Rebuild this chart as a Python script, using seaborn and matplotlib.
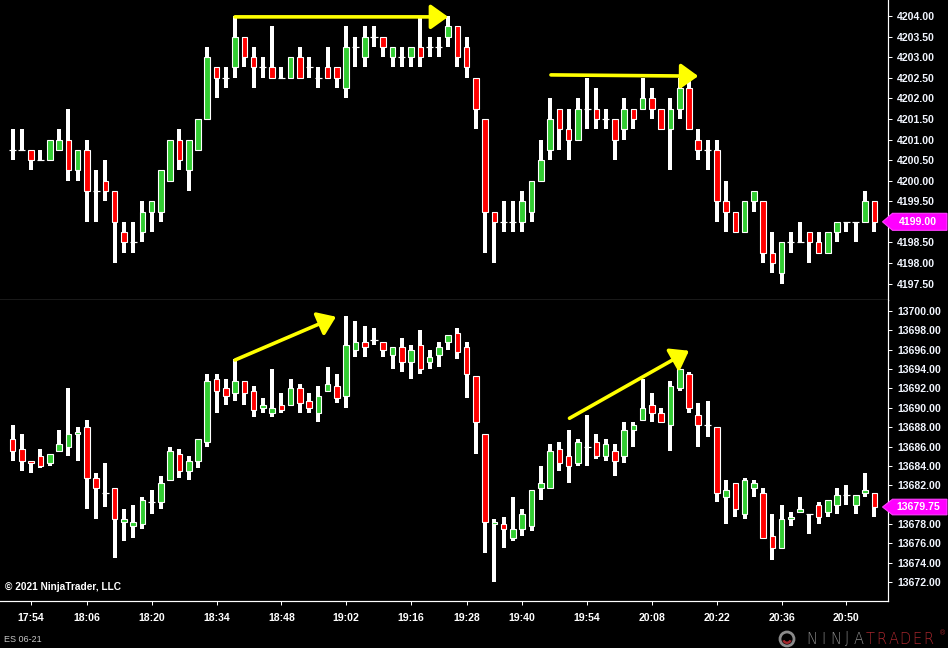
import numpy as np
import pandas as pd
import matplotlib
matplotlib.use("Agg")
import matplotlib.pyplot as plt
import matplotlib.transforms as mtransforms
from matplotlib.patches import Polygon, FancyArrowPatch, ArrowStyle, Circle, Wedge
import seaborn as sns

# ---------------- data ----------------
es_open = [4200.75, 4200.75, 4200.75, 4200.5, 4200.5, 4200.75, 4201.0, 4200.25, 4200.75, 4199.75,
           4200.0, 4199.75, 4198.75, 4198.5, 4198.75, 4199.25, 4199.25, 4200.0, 4201.0, 4200.25,
           4200.75, 4201.5, 4202.75, 4202.5, 4202.75, 4203.5, 4203.0, 4202.75, 4202.75, 4202.5,
           4202.5, 4203.0, 4202.75, 4202.5, 4202.75, 4202.75, 4202.25, 4203.25, 4203.0, 4203.5,
           4203.5, 4203.0, 4203.0, 4203.0, 4203.25, 4203.25, 4203.25, 4203.5, 4203.75, 4203.25,
           4202.5, 4201.5, 4199.25, 4199.0, 4199.0, 4199.0, 4199.25, 4200.0, 4200.75, 4201.75,
           4201.25, 4201.0, 4201.75, 4201.75, 4201.5, 4201.5, 4201.25, 4201.75, 4201.75, 4202.0,
           4201.75, 4201.25, 4201.75, 4202.25, 4201.0, 4200.75, 4200.75, 4199.5, 4199.25, 4198.75,
           4199.5, 4199.5, 4198.25, 4197.75, 4198.5, 4198.5, 4198.75, 4198.5, 4198.25, 4198.75,
           4199.0, 4199.0, 4199.0, 4199.5]
es_high = [4201.25, 4201.25, 4200.75, 4200.75, 4201.0, 4201.25, 4201.75, 4200.75, 4201.0, 4200.25,
           4200.5, 4199.75, 4199.0, 4199.0, 4199.5, 4199.5, 4200.25, 4201.0, 4201.25, 4201.0,
           4201.5, 4203.25, 4202.75, 4202.75, 4204.0, 4203.5, 4203.25, 4203.0, 4203.75, 4202.75,
           4203.0, 4203.25, 4203.0, 4202.75, 4203.25, 4202.75, 4203.75, 4203.5, 4203.75, 4203.75,
           4203.5, 4203.25, 4203.25, 4203.25, 4204.0, 4203.5, 4203.5, 4204.0, 4203.75, 4203.5,
           4202.5, 4201.5, 4199.25, 4199.5, 4199.5, 4199.75, 4200.0, 4201.0, 4202.0, 4201.75,
           4201.75, 4202.0, 4202.5, 4202.25, 4201.75, 4201.5, 4202.0, 4201.75, 4202.5, 4202.25,
           4201.75, 4202.0, 4202.5, 4202.5, 4201.25, 4201.0, 4201.0, 4200.0, 4199.25, 4199.5,
           4199.75, 4199.5, 4198.75, 4198.5, 4198.75, 4199.0, 4198.75, 4198.75, 4198.75, 4199.0,
           4199.0, 4199.0, 4199.75, 4199.5]
es_low = [4200.5, 4200.75, 4200.25, 4200.5, 4200.5, 4200.75, 4200.0, 4200.0, 4199.0, 4199.0,
          4199.5, 4198.0, 4198.25, 4198.25, 4198.5, 4198.75, 4199.0, 4200.0, 4200.25, 4199.75,
          4200.75, 4201.5, 4202.0, 4202.25, 4202.5, 4202.75, 4202.25, 4202.5, 4202.5, 4202.5,
          4202.5, 4202.5, 4202.5, 4202.25, 4202.5, 4202.25, 4202.0, 4202.75, 4202.75, 4203.25,
          4203.0, 4202.75, 4202.75, 4202.75, 4202.75, 4203.0, 4203.0, 4203.25, 4202.75, 4202.5,
          4201.25, 4198.25, 4198.0, 4198.75, 4198.75, 4198.75, 4199.0, 4200.0, 4200.5, 4200.75,
          4200.5, 4201.0, 4201.25, 4201.25, 4201.25, 4200.5, 4201.0, 4201.25, 4201.75, 4201.5,
          4201.25, 4200.25, 4201.5, 4201.25, 4200.5, 4200.25, 4199.0, 4198.75, 4198.75, 4198.75,
          4199.25, 4198.0, 4197.75, 4197.5, 4198.25, 4198.5, 4198.0, 4198.25, 4198.25, 4198.5,
          4198.75, 4198.5, 4199.0, 4198.75]
es_close = [4200.75, 4200.75, 4200.5, 4200.5, 4201.0, 4201.0, 4200.25, 4200.75, 4199.75, 4199.75,
            4199.75, 4199.0, 4198.5, 4198.5, 4199.25, 4199.5, 4200.25, 4201.0, 4200.5, 4201.0,
            4201.5, 4203.0, 4202.5, 4202.5, 4203.5, 4203.0, 4202.75, 4202.75, 4202.5, 4202.5,
            4203.0, 4202.5, 4202.75, 4202.5, 4202.5, 4202.5, 4203.25, 4203.25, 4203.5, 4203.5,
            4203.25, 4203.25, 4203.0, 4203.25, 4203.0, 4203.25, 4203.25, 4203.75, 4203.0, 4202.75,
            4201.75, 4199.25, 4199.0, 4199.0, 4199.0, 4199.5, 4200.0, 4200.5, 4201.5, 4201.25,
            4201.0, 4201.75, 4201.75, 4201.5, 4201.5, 4201.0, 4201.75, 4201.5, 4202.0, 4201.75,
            4201.25, 4201.75, 4202.25, 4201.25, 4200.75, 4200.75, 4199.5, 4199.25, 4198.75, 4199.5,
            4199.75, 4198.25, 4198.0, 4198.5, 4198.5, 4198.5, 4198.5, 4198.25, 4198.75, 4199.0,
            4199.0, 4199.0, 4199.5, 4199.0]

nq_open = [13686.75, 13685.75, 13684.5, 13685.0, 13684.25, 13685.5, 13686.0, 13687.25, 13688.0, 13682.75,
           13681.25, 13681.75, 13678.25, 13677.75, 13678.0, 13680.25, 13680.25, 13682.5, 13685.25, 13683.5,
           13684.5, 13686.5, 13693.0, 13692.0, 13691.5, 13692.75, 13691.75, 13690.0, 13689.5, 13690.25,
           13690.25, 13692.0, 13690.75, 13689.5, 13691.75, 13692.25, 13691.25, 13696.0, 13696.75, 13697.0,
           13696.75, 13695.5, 13696.25, 13694.75, 13696.5, 13694.75, 13695.5, 13696.75, 13697.75, 13696.25,
           13693.25, 13687.25, 13678.0, 13678.0, 13676.5, 13677.5, 13677.75, 13681.75, 13681.75, 13685.75,
           13685.0, 13684.25, 13686.0, 13686.5, 13685.0, 13685.5, 13685.0, 13687.75, 13688.75, 13690.25,
           13689.5, 13688.25, 13692.0, 13693.5, 13689.25, 13688.25, 13688.0, 13680.75, 13682.25, 13679.0,
           13681.75, 13681.25, 13676.75, 13675.5, 13678.5, 13679.25, 13679.0, 13680.0, 13679.25, 13680.0,
           13681.0, 13680.0, 13681.25, 13681.25]
nq_high = [13688.25, 13687.25, 13684.5, 13685.75, 13685.25, 13687.75, 13692.0, 13688.0, 13688.75, 13683.25,
           13684.25, 13681.75, 13679.5, 13680.0, 13680.75, 13681.5, 13683.0, 13686.0, 13685.75, 13685.0,
           13686.75, 13693.5, 13693.5, 13693.0, 13695.0, 13692.75, 13692.25, 13691.0, 13694.0, 13691.5,
           13693.0, 13692.5, 13691.5, 13692.25, 13694.25, 13693.5, 13699.5, 13699.0, 13698.5, 13698.25,
           13696.75, 13696.25, 13697.25, 13696.5, 13698.0, 13696.0, 13696.75, 13697.5, 13698.25, 13696.75,
           13693.25, 13687.25, 13678.5, 13678.75, 13680.75, 13679.5, 13681.5, 13684.0, 13686.25, 13686.5,
           13687.75, 13686.75, 13689.25, 13687.25, 13686.75, 13686.25, 13688.5, 13688.5, 13693.0, 13691.5,
           13690.0, 13692.75, 13694.0, 13693.75, 13690.5, 13690.75, 13688.0, 13682.5, 13682.25, 13682.75,
           13682.5, 13681.75, 13679.0, 13680.0, 13679.25, 13680.75, 13679.0, 13680.25, 13680.5, 13681.75,
           13682.0, 13681.0, 13683.25, 13681.25]
nq_low = [13684.5, 13683.5, 13683.25, 13683.75, 13684.0, 13685.5, 13685.0, 13684.5, 13679.5, 13678.5,
          13679.75, 13674.5, 13676.25, 13676.5, 13677.5, 13679.0, 13679.5, 13682.5, 13682.75, 13682.5,
          13683.75, 13686.0, 13689.5, 13690.25, 13690.75, 13690.25, 13689.0, 13689.5, 13689.0, 13689.5,
          13690.25, 13689.5, 13689.5, 13688.5, 13691.75, 13690.5, 13690.0, 13695.25, 13695.25, 13696.5,
          13695.25, 13694.0, 13693.75, 13693.0, 13693.5, 13694.0, 13694.25, 13696.0, 13695.0, 13691.0,
          13685.25, 13675.0, 13672.0, 13675.5, 13676.25, 13676.75, 13677.25, 13680.5, 13681.75, 13683.5,
          13682.25, 13684.0, 13684.0, 13684.75, 13684.5, 13683.0, 13684.25, 13686.0, 13688.75, 13688.5,
          13688.5, 13685.5, 13691.75, 13689.5, 13686.0, 13687.0, 13680.25, 13678.0, 13678.75, 13678.5,
          13680.75, 13676.5, 13674.25, 13675.5, 13677.75, 13679.25, 13677.0, 13678.0, 13678.75, 13679.0,
          13680.0, 13679.0, 13680.75, 13678.75]
nq_close = [13685.5, 13684.5, 13684.25, 13684.0, 13685.25, 13686.25, 13687.25, 13687.5, 13682.75, 13681.75,
            13681.25, 13678.5, 13678.5, 13678.25, 13680.5, 13680.25, 13682.25, 13685.5, 13683.5, 13684.5,
            13686.75, 13692.75, 13691.75, 13691.25, 13692.75, 13691.5, 13689.75, 13690.25, 13690.0, 13689.75,
            13692.0, 13690.5, 13690.0, 13691.25, 13692.5, 13691.0, 13696.5, 13696.75, 13696.25, 13697.0,
            13696.0, 13696.25, 13694.75, 13696.0, 13694.0, 13695.25, 13696.25, 13697.5, 13695.75, 13693.5,
            13688.5, 13678.25, 13678.25, 13677.5, 13677.5, 13679.0, 13681.5, 13682.25, 13685.5, 13684.25,
            13684.0, 13686.5, 13686.0, 13685.0, 13686.25, 13684.5, 13687.75, 13688.25, 13690.0, 13689.5,
            13688.5, 13692.25, 13694.0, 13690.0, 13688.25, 13688.25, 13681.25, 13681.5, 13679.5, 13682.5,
            13682.25, 13676.5, 13675.5, 13678.5, 13678.75, 13679.5, 13679.0, 13678.75, 13680.5, 13681.0,
            13681.0, 13681.0, 13681.5, 13679.75]

time_tick_bars = [2, 8, 15, 22, 29, 36, 43, 49, 55, 62, 69, 76, 83, 90]
time_tick_labels = ["17:54", "18:06", "18:20", "18:34", "18:48", "19:02", "19:16",
                    "19:28", "19:40", "19:54", "20:08", "20:22", "20:36", "20:50"]
es_ticks = [4197.5, 4198.0, 4198.5, 4199.0, 4199.5, 4200.0, 4200.5, 4201.0,
            4201.5, 4202.0, 4202.5, 4203.0, 4203.5, 4204.0]
nq_ticks = [13672, 13674, 13676, 13678, 13680, 13682, 13684, 13686,
            13688, 13690, 13692, 13694, 13696, 13698, 13700]
# tick labels hidden under the last-price tags
es_hidden = [4199.0]
nq_hidden = [13680]

es_arrows = [((24.0, 4203.98), (47.0, 4203.98)), ((58.1, 4202.57), (74.0, 4202.54))]
nq_arrows = [((24.0, 13694.94), (34.9, 13699.41)), ((60.1, 13688.92), (73.0, 13695.9))]

es_last = "4199.00"
nq_last = "13679.75"

# ---------------- style ----------------
sns.set_theme(style="dark", rc={"axes.facecolor": "black", "figure.facecolor": "black",
                                "savefig.facecolor": "black"})
plt.rcParams['font.family'] = ['Liberation Sans', 'DejaVu Sans']

W, H = 948, 648
fig = plt.figure(figsize=(W / 100, H / 100), dpi=100)
ax1 = fig.add_axes([0, (H - 300) / H, 888 / W, 300 / H])
ax2 = fig.add_axes([0, (H - 601) / H, 888 / W, 301 / H])

GREEN = "#32CD32"
RED = "#FF0000"
PX = 0.72  # points per pixel


def draw_candles(ax, o, h, l, c):
    df = pd.DataFrame({"o": o, "h": h, "l": l, "c": c})
    df["x"] = np.arange(len(df))
    ax.vlines(df["x"], df["l"], df["h"], color="white", lw=4 * PX, capstyle="butt", zorder=2)
    up = df[df["c"] > df["o"]]
    dn = df[df["c"] < df["o"]]
    fl = df[df["c"] == df["o"]]
    ax.bar(up["x"], up["c"] - up["o"], bottom=up["o"], width=0.6, color=GREEN,
           edgecolor="white", linewidth=1.1 * PX, zorder=3)
    ax.bar(dn["x"], dn["o"] - dn["c"], bottom=dn["c"], width=0.6, color=RED,
           edgecolor="white", linewidth=1.1 * PX, zorder=3)
    ax.hlines(fl["c"], fl["x"] - 0.38, fl["x"] + 0.38, color="white", lw=1.2 * PX, zorder=3)


def style_axis(ax, ticks, hidden, fmt):
    ax.set_facecolor("black")
    ax.grid(False)
    ax.yaxis.tick_right()
    labels = ["" if t in hidden else fmt.format(t) for t in ticks]
    ax.set_yticks(ticks, labels=labels, fontweight="bold")
    ax.tick_params(axis="y", direction="out", length=4 * PX, width=PX, color="white",
                   labelcolor="#f2f6ff", labelsize=7.6, pad=5 * PX, right=True, left=False)
    for s in ["left", "top"]:
        ax.spines[s].set_visible(False)
    for s in ["right", "bottom"]:
        ax.spines[s].set_visible(True)
        ax.spines[s].set_color("white")
        ax.spines[s].set_linewidth(1.2 * PX)


xlim = (-1.371, 94.48)

draw_candles(ax1, es_open, es_high, es_low, es_close)
draw_candles(ax2, nq_open, nq_high, nq_low, nq_close)
ax1.set_xlim(*xlim)
ax2.set_xlim(*xlim)
ax1.set_ylim(4197.10, 4204.39)
ax2.set_ylim(13670.04, 13701.14)

style_axis(ax1, es_ticks, es_hidden, "{:.2f}")
style_axis(ax2, nq_ticks, nq_hidden, "{:.2f}")
ax1.tick_params(axis="x", bottom=False, labelbottom=False)
ax2.set_xticks(time_tick_bars, labels=time_tick_labels, fontweight="bold")
ax2.tick_params(axis="x", direction="out", length=4 * PX, width=PX, color="white",
                labelcolor="white", labelsize=7.6, pad=5.5, bottom=True)


def yellow_arrows(ax, arrows):
    for (x0, y0), (x1, y1) in arrows:
        arr = FancyArrowPatch((x0, y0), (x1, y1),
                              arrowstyle=ArrowStyle("-|>", head_length=10.5, head_width=7.5),
                              mutation_scale=1, color="#FFFF00", lw=2.6, shrinkA=0, shrinkB=0,
                              zorder=6, clip_on=False)
        ax.add_patch(arr)


yellow_arrows(ax1, es_arrows)
yellow_arrows(ax2, nq_arrows)


def price_tag(ax, value, text, half):
    disp = ax.get_yaxis_transform().transform((1.0, value))
    tr = mtransforms.Affine2D().translate(disp[0], disp[1])
    verts = [(-5.5, 0), (4.5, half), (59, half), (59, -half), (4.5, -half)]
    poly = Polygon(verts, closed=True, transform=tr, fc="#FF00FF", ec="#FF40FF",
                   lw=0.8, clip_on=False, zorder=10)
    fig.add_artist(poly)
    fig.text(30, 0, text, transform=tr, ha="center", va="center", color="white",
             fontsize=7.6, fontweight="bold", zorder=11)


price_tag(ax1, es_close[-1], es_last, 8.5)
price_tag(ax2, nq_close[-1], nq_last, 7.8)


def fx(px):
    return px / W


def fy(py):
    return 1 - py / H


fig.text(fx(5), fy(587), "\u00a9 2021 NinjaTrader, LLC", ha="left", va="center",
         color="white", fontsize=7.3, fontweight="bold")
fig.text(fx(4), fy(639), "ES 06-21", ha="left", va="center", color="#c8c8c8", fontsize=6.5)

# NinjaTrader logo
logo_letters = list("NINJATRADER")
logo_colors = ["#8a8a8a"] * 5 + ["#a3262c"] * 6
centers = np.linspace(812, 928, len(logo_letters))
for ch, col, cx in zip(logo_letters, logo_colors, centers):
    fig.text(fx(cx), fy(639), ch, ha="center", va="center", color=col, fontsize=10.5,
             fontfamily=["DejaVu Sans"], fontweight="light")
fig.text(fx(942), fy(634), "\u00ae", ha="center", va="center", color="#a3262c", fontsize=5)
ring = Circle((787, H - 639), 7, transform=mtransforms.IdentityTransform(),
              fill=False, ec="#8a8a8a", lw=2.0)
fig.add_artist(ring)
arc = Wedge((787, H - 639), 5, 200, 340, width=2.5, transform=mtransforms.IdentityTransform(),
            fc="#a3262c", ec="none")
fig.add_artist(arc)

fig.savefig("out.png", dpi=100, facecolor="black")
